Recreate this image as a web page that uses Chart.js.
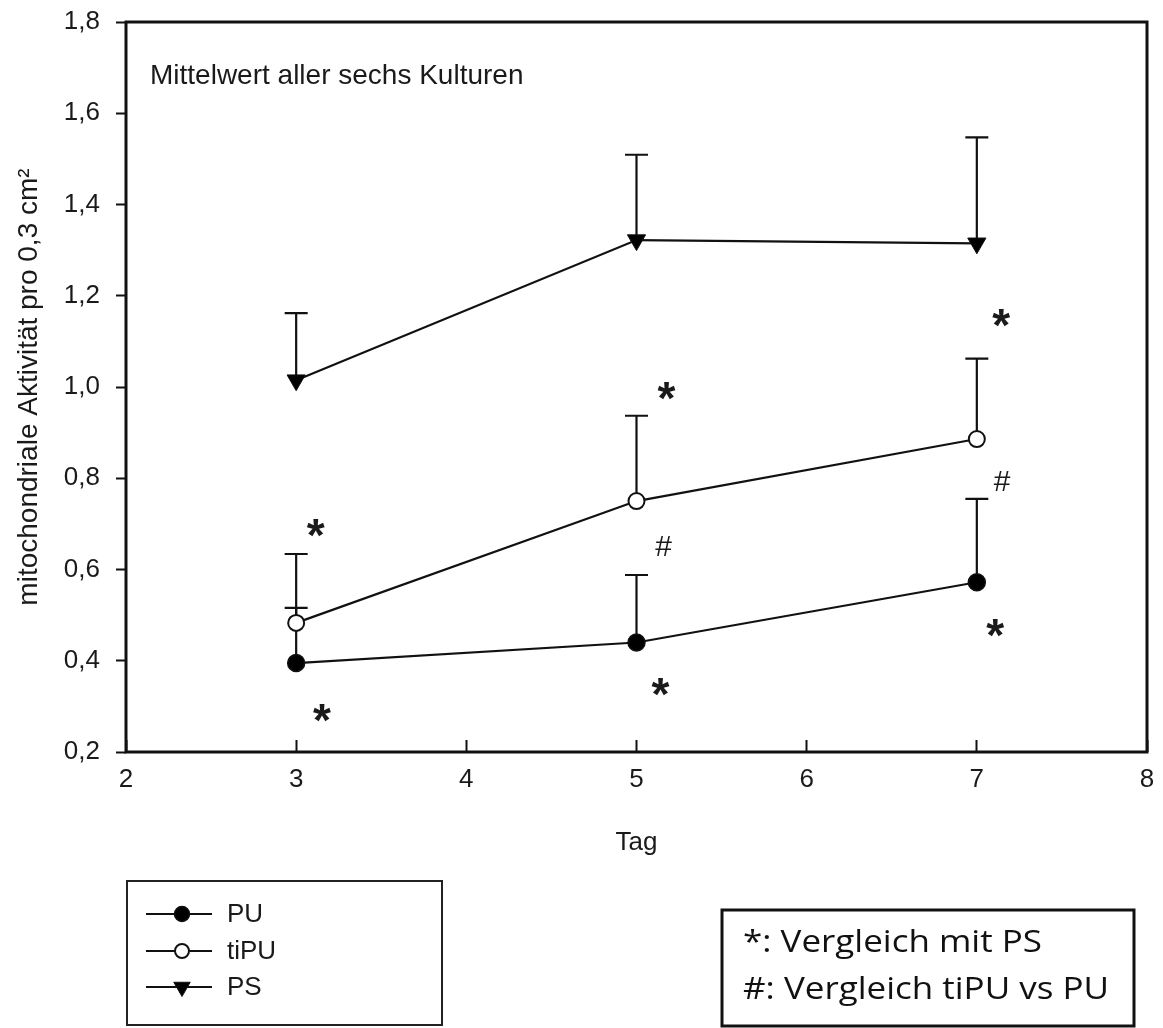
<!DOCTYPE html>
<html><head><meta charset="utf-8">
<script src="https://cdn.jsdelivr.net/npm/chart.js@4/dist/chart.umd.min.js"></script>
<style>html,body{margin:0;padding:0;background:#fff;} #wrap{width:1163px;height:1028px;position:relative}</style>
</head><body><div id="wrap"><canvas id="c" width="1163" height="1028"></canvas></div>
<script>
// ---- data ----
const days = [3, 5, 7];
const puMean = [0.395, 0.440, 0.572];
const puUpper = [0.516, 0.588, 0.755];
const tipuMean = [0.483, 0.750, 0.886];
const tipuUpper = [0.634, 0.937, 1.062];
const psMean = [1.015, 1.322, 1.315];
const psUpper = [1.162, 1.509, 1.547];
const seriesNames = ['PU', 'tiPU', 'PS'];
const xTickValues = [2, 3, 4, 5, 6, 7, 8];
const yTickValues = [0.2, 0.4, 0.6, 0.8, 1.0, 1.2, 1.4, 1.6, 1.8];
const yTickLabels = ['0,2', '0,4', '0,6', '0,8', '1,0', '1,2', '1,4', '1,6', '1,8'];
const starMarksX = [3.115, 3.151, 5.176, 5.141, 7.143, 7.108];
const starMarksY = [0.697, 0.292, 0.998, 0.349, 1.158, 0.478];
const hashMarksX = [5.159, 7.149];
const hashMarksY = [0.647, 0.790];
const noteText = 'Mittelwert aller sechs Kulturen';
const xTitle = 'Tag';
const yTitle = 'mitochondriale Aktivität pro 0,3 cm²';
const keyLines = ['*: Vergleich mit PS', '#: Vergleich tiPU vs PU'];

const FONT = "'Liberation Sans', Arial, sans-serif";
const INK = '#1a1a1a';
Chart.defaults.font.family = FONT;
Chart.defaults.color = INK;

const means = [puMean, tipuMean, psMean];
const uppers = [puUpper, tipuUpper, psUpper];
const styles = [
  {pointStyle: 'circle', radius: 8.5, rotation: 0, bg: '#000', bw: 1.5},
  {pointStyle: 'circle', radius: 8, rotation: 0, bg: '#fff', bw: 2},
  {pointStyle: 'triangle', radius: 10.5, rotation: 180, bg: '#000', bw: 1}
];

const datasets = seriesNames.map((name, s) => ({
  label: name,
  data: days.map((d, i) => ({x: d, y: means[s][i]})),
  upper: uppers[s],
  borderColor: '#111',
  borderWidth: 2.2,
  tension: 0,
  fill: false,
  pointStyle: styles[s].pointStyle,
  pointRadius: styles[s].radius,
  pointRotation: styles[s].rotation,
  pointBackgroundColor: styles[s].bg,
  pointBorderColor: '#111',
  pointBorderWidth: styles[s].bw
}));

const errorBars = {
  id: 'errorBars',
  beforeDatasetsDraw(chart) {
    const {ctx, scales: {x, y}} = chart;
    ctx.save();
    ctx.strokeStyle = '#111';
    ctx.lineWidth = 2.2;
    chart.data.datasets.forEach(ds => {
      ds.data.forEach((p, i) => {
        const px = x.getPixelForValue(p.x);
        const py = y.getPixelForValue(p.y);
        const pu = y.getPixelForValue(ds.upper[i]);
        ctx.beginPath();
        ctx.moveTo(px, py); ctx.lineTo(px, pu);
        ctx.moveTo(px - 11.5, pu); ctx.lineTo(px + 11.5, pu);
        ctx.stroke();
      });
    });
    ctx.restore();
  }
};

const decorations = {
  id: 'decorations',
  afterDraw(chart) {
    const {ctx, chartArea: a, scales: {x, y}} = chart;
    ctx.save();
    // frame
    ctx.strokeStyle = '#111';
    ctx.lineWidth = 3;
    ctx.strokeRect(a.left, a.top, a.right - a.left, a.bottom - a.top);
    // note
    ctx.fillStyle = INK;
    ctx.font = '28px ' + FONT;
    ctx.textBaseline = 'middle';
    ctx.textAlign = 'left';
    ctx.fillText(noteText, a.left + 24, a.top + 54);
    // stars
    ctx.textAlign = 'center';
    ctx.textBaseline = 'alphabetic';
    ctx.font = 'bold 46px ' + FONT;
    starMarksX.forEach((sx, i) => {
      ctx.fillText('*', x.getPixelForValue(sx), y.getPixelForValue(starMarksY[i]) + 26);
    });
    ctx.font = '30px ' + FONT;
    ctx.textBaseline = 'middle';
    hashMarksX.forEach((hx, i) => {
      ctx.fillText('#', x.getPixelForValue(hx), y.getPixelForValue(hashMarksY[i]));
    });
    // legend box
    ctx.lineWidth = 2;
    ctx.strokeStyle = '#222';
    ctx.strokeRect(127, 881, 315, 144);
    const rows = [914, 951, 987];
    chart.data.datasets.forEach((ds, s) => {
      const ly = rows[s];
      ctx.strokeStyle = '#111';
      ctx.lineWidth = 2;
      ctx.beginPath(); ctx.moveTo(146, ly); ctx.lineTo(212, ly); ctx.stroke();
      ctx.fillStyle = ds.pointBackgroundColor;
      ctx.lineWidth = ds.pointBorderWidth;
      Chart.helpers.drawPoint(ctx, {pointStyle: ds.pointStyle, radius: ds.pointRadius - 1, rotation: ds.pointRotation, borderWidth: ds.pointBorderWidth}, 182, ly);
      ctx.fillStyle = INK;
      ctx.font = '26px ' + FONT;
      ctx.textAlign = 'left';
      ctx.textBaseline = 'middle';
      ctx.fillText(ds.label, 227, ly + 1);
    });
    // key box
    ctx.lineWidth = 3;
    ctx.strokeStyle = '#111';
    ctx.strokeRect(722, 910, 412, 116);
    ctx.fillStyle = '#111';
    ctx.font = "31px 'Open Sans', sans-serif";
    ctx.textAlign = 'left';
    ctx.textBaseline = 'middle';
    const w = ctx.measureText(keyLines[0]).width;
    const sx = 299 / w;
    [943, 990].forEach((ty, i) => {
      ctx.save();
      ctx.translate(743, ty);
      ctx.scale(sx, 1);
      ctx.fillText(keyLines[i], 0, 0);
      ctx.restore();
    });
    ctx.restore();
  }
};

new Chart(document.getElementById('c'), {
  type: 'line',
  data: {datasets},
  plugins: [errorBars, decorations],
  options: {
    responsive: false,
    animation: false,
    events: [],
    layout: {padding: {top: 22, right: 16, left: 0, bottom: 0}},
    plugins: {legend: {display: false}, tooltip: {enabled: false}},
    scales: {
      x: {
        type: 'linear', min: 2, max: 8,
        afterFit(scale) { scale.height = 276; scale.paddingLeft = 0; scale.paddingRight = 0; },
        afterBuildTicks(scale) { scale.ticks = xTickValues.map(v => ({value: v})); },
        ticks: {font: {size: 26}, color: INK, padding: 24, callback: v => String(v)},
        grid: {drawOnChartArea: false, drawTicks: true, tickLength: -12, tickWidth: 2, tickColor: '#111'},
        border: {display: false},
        title: {display: true, text: xTitle, font: {size: 26}, color: INK, padding: {top: 0, bottom: 170}}
      },
      y: {
        type: 'linear', min: 0.2, max: 1.8,
        afterFit(scale) { scale.width = 126; scale.paddingTop = 0; scale.paddingBottom = 0; },
        afterBuildTicks(scale) { scale.ticks = yTickValues.map(v => ({value: v})); },
        ticks: {font: {size: 26}, color: INK, padding: 16,
          callback: (v) => { const k = yTickValues.findIndex(t => Math.abs(t - v) < 1e-6); return k >= 0 ? yTickLabels[k] : ''; }},
        grid: {drawOnChartArea: false, drawTicks: true, tickLength: 10, tickWidth: 2, tickColor: '#111'},
        border: {display: false},
        title: {display: true, text: yTitle, font: {size: 28}, color: INK, padding: {top: 12, bottom: 0}}
      }
    }
  }
});
</script>
</body></html>
